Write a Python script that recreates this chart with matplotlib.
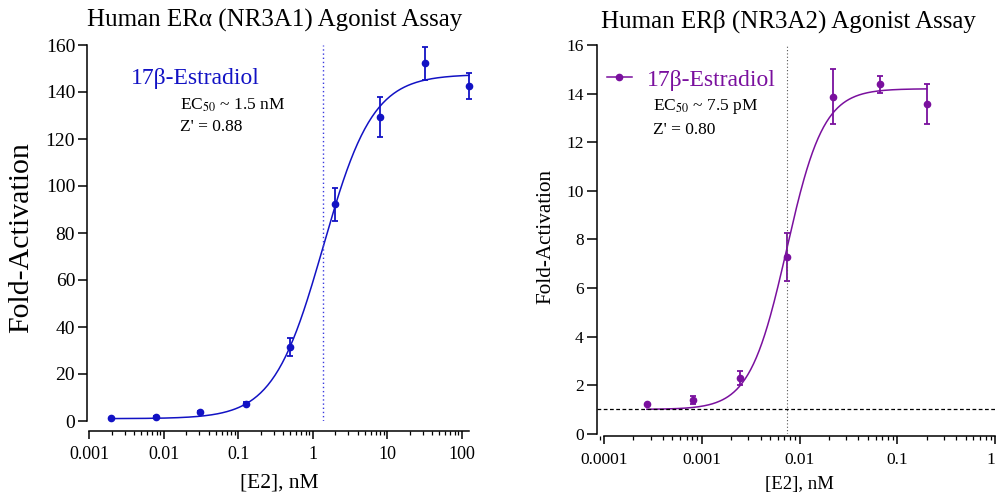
import numpy as np
import matplotlib
matplotlib.use("Agg")
import matplotlib.pyplot as plt
from matplotlib.lines import Line2D

plt.rcParams["font.family"] = ["Liberation Serif", "DejaVu Serif"]
plt.rcParams["mathtext.fontset"] = "stix"

# ER alpha data (4-fold dilution series)
conc_a = [0.00195, 0.0078, 0.031, 0.125, 0.5, 2.0, 8.0, 32.0, 125.0]
fold_a = [1.1, 1.8, 3.7, 7.4, 31.6, 92.2, 129.5, 152.2, 142.6]
err_a = [0.3, 0.3, 0.4, 0.5, 3.8, 7.0, 8.5, 7.1, 5.4]
# fitted 4PL parameters: bottom, top, EC50, hill
fit_a = [1.0, 147.5, 1.38, 1.3]

# ER beta data (3-fold dilution series)
conc_b = [0.000274, 0.000823, 0.00247, 0.0074, 0.0222, 0.0667, 0.2]
fold_b = [1.21, 1.40, 2.30, 7.28, 13.87, 14.38, 13.57]
err_b = [0.03, 0.17, 0.30, 0.98, 1.14, 0.34, 0.82]
fit_b = [1.0, 14.2, 0.0074, 2.3]

BLUE = "#1212C4"
PURPLE = "#7A109E"

W, H = 997, 497
fig = plt.figure(figsize=(W / 100, H / 100), dpi=100)


def px_axes(x0, x1, y0, y1):
    # pixel box (top-left origin) -> axes
    return fig.add_axes([x0 / W, 1 - y1 / H, (x1 - x0) / W, (y1 - y0) / H])


def four_pl(x, p):
    bottom, top, ec50, hill = p
    return bottom + (top - bottom) / (1 + (ec50 / x) ** hill)


def style(ax, ytick_fs, xtick_fs, offset, ylen):
    for s in ("top", "right"):
        ax.spines[s].set_visible(False)
    ax.spines["left"].set_linewidth(1.1)
    ax.spines["bottom"].set_linewidth(1.1)
    ax.spines["bottom"].set_position(("outward", offset))
    ax.tick_params(axis="y", length=ylen, width=1.1, labelsize=ytick_fs, pad=2)
    ax.tick_params(axis="x", which="major", length=6, width=1.1, labelsize=xtick_fs, pad=5)
    ax.tick_params(axis="x", which="minor", length=3.2, width=0.9)


# ---------------- left: ER alpha ----------------
ax1 = px_axes(87, 469, 45, 421)
ax1.set_xscale("log")
ax1.set_xlim(10 ** (-3 - 2.3 / 74.5), 125)
ax1.set_ylim(0, 160)
ax1.set_yticks(range(0, 161, 20))
ax1.set_xticks([0.001, 0.01, 0.1, 1, 10, 100])
ax1.set_xticklabels(["0.001", "0.01", "0.1", "1", "10", "100"])
ax1.xaxis.set_minor_locator(matplotlib.ticker.LogLocator(base=10, subs=np.arange(2, 10), numticks=20))
ax1.xaxis.set_minor_formatter(matplotlib.ticker.NullFormatter())
style(ax1, 14, 13, 7, 6.5)
ax1.spines["bottom"].set_bounds(0.001, 125)

xs = np.logspace(np.log10(conc_a[0]), np.log10(conc_a[-1]), 300)
ax1.plot(xs, four_pl(xs, fit_a), color=BLUE, lw=1.1, clip_on=False)
ax1.errorbar(conc_a, fold_a, yerr=err_a, fmt="o", color=BLUE, ms=4.5, capsize=2.5,
             elinewidth=1.3, capthick=1.3, clip_on=False)
ax1.axvline(fit_a[2], color="#3A3AE0", lw=1.0, ls=(0, (1, 2)))

ax1.text(0.115, 0.912, "17\u03b2-Estradiol", transform=ax1.transAxes, color=BLUE,
         fontsize=17, va="center", ha="left")
ax1.text(0.243, 0.840, "EC$_{50}$ ~ 1.5 nM", transform=ax1.transAxes, fontsize=12.5,
         va="center", ha="left")
ax1.text(0.243, 0.782, "Z' = 0.88", transform=ax1.transAxes, fontsize=12.5,
         va="center", ha="left")

fig.text(275 / W, 1 - 26.7 / H, "Human ER\u03b1 (NR3A1) Agonist Assay", fontsize=18,
         ha="center", va="baseline")
fig.text(21.5 / W, 1 - 237.5 / H, "Fold-Activation", fontsize=21.5, rotation=90,
         ha="center", va="center")
fig.text(279.5 / W, 1 - 483 / H, "[E2], nM", fontsize=15.5, ha="center", va="center")

# ---------------- right: ER beta ----------------
ax2 = px_axes(596.7, 995, 45, 433.7)
ax2.set_xscale("log")
ax2.set_xlim(10 ** (-4 - 7.3 / 97.75), 1)
ax2.set_ylim(0, 16)
ax2.set_yticks(range(0, 17, 2))
ax2.set_xticks([0.0001, 0.001, 0.01, 0.1, 1])
ax2.set_xticklabels(["0.0001", "0.001", "0.01", "0.1", "1"])
ax2.xaxis.set_minor_locator(matplotlib.ticker.LogLocator(base=10, subs=np.arange(2, 10), numticks=20))
ax2.xaxis.set_minor_formatter(matplotlib.ticker.NullFormatter())
style(ax2, 12.5, 12.5, 2, 7.5)
ax2.spines["bottom"].set_bounds(0.0001, 1)
# keep the last tick label just inside the canvas
ax2.get_xticklabels()[-1].set_horizontalalignment("right")

xs = np.logspace(np.log10(conc_b[0]), np.log10(conc_b[-1]), 300)
ax2.plot(xs, four_pl(xs, fit_b), color=PURPLE, lw=1.1, clip_on=False)
ax2.errorbar(conc_b, fold_b, yerr=err_b, fmt="o", color=PURPLE, ms=4.5, capsize=2.5,
             elinewidth=1.3, capthick=1.3, clip_on=False)
ax2.axvline(fit_b[2], color="#555555", lw=0.8, ls=(0, (1, 2)))
ax2.axhline(1.0, color="black", lw=0.9, ls=(0, (3, 2)))

handle = Line2D([], [], color=PURPLE, marker="o", ms=4.5, lw=1.1)
ax2.legend([handle], ["17\u03b2-Estradiol"], loc="center left", bbox_to_anchor=(0.025, 0.91),
           frameon=False, fontsize=17, handlelength=1.06, handletextpad=0.64,
           borderpad=0, borderaxespad=0, labelcolor=PURPLE)
ax2.text(0.1406, 0.8405, "EC$_{50}$ ~ 7.5 pM", transform=ax2.transAxes, fontsize=12.5,
         va="center", ha="left")
ax2.text(0.1406, 0.781, "Z' = 0.80", transform=ax2.transAxes, fontsize=12.5,
         va="center", ha="left")

fig.text(788 / W, 1 - 27.7 / H, "Human ER\u03b2 (NR3A2) Agonist Assay", fontsize=18,
         ha="center", va="baseline")
fig.text(546 / W, 1 - 236 / H, "Fold-Activation", fontsize=15.2, rotation=90,
         ha="center", va="center")
fig.text(799.5 / W, 1 - 485 / H, "[E2], nM", fontsize=13.5, ha="center", va="center")

fig.savefig("out.png", dpi=100, facecolor="white")
